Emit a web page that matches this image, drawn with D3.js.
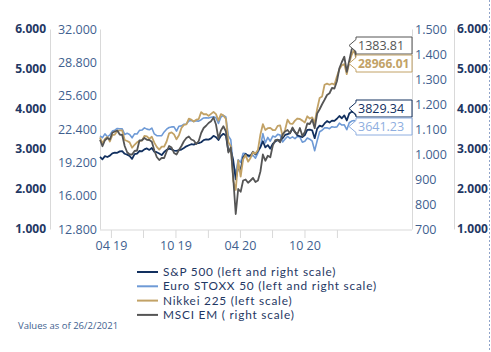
<!DOCTYPE html>
<html>
<head>
<meta charset="utf-8">
<script src="https://cdn.jsdelivr.net/npm/d3@7"></script>
<style>
  html, body { margin: 0; padding: 0; background: #fff; }
  svg { display: block; font-family: "Open Sans", sans-serif; }
</style>
</head>
<body>
<svg id="chart" width="491" height="352"></svg>
<script>
// Weekly closes (Fridays), 1 Mar 2019 .. 26 Feb 2021 (last value = 25/26 Feb close)
const spx = [
  2804, 2743, 2822, 2800, 2834,  2893, 2907, 2905, 2940,  2946, 2881, 2860, 2826, 2752,
  2873, 2887, 2950, 2942,  2990, 3014, 2977, 3026,  2932, 2919, 2889, 2847, 2926,
  2979, 3007, 2992, 2962,  2952, 2970, 2986, 3023,  3067, 3093, 3120, 3110, 3141,
  3146, 3169, 3221, 3240,
  3235, 3265, 3330, 3295, 3226,  3328, 3380, 3338, 2954,  2972, 2711, 2240, 2541,
  2489, 2790, 2875, 2837,  2831, 2930, 2864, 2955, 3044,  3194, 3041, 3098, 3009,
  3130, 3185, 3225, 3216, 3271,  3351, 3373, 3397, 3508,  3427, 3341, 3319, 3298,
  3348, 3477, 3484, 3465, 3270,  3510, 3585, 3558, 3638,  3699, 3663, 3709, 3703,
  3756, 3825, 3768, 3841, 3714,  3887, 3934, 3907, 3829.34
];
const sx5e = [
  3327, 3283, 3378, 3305, 3352,  3448, 3470, 3514, 3505,  3503, 3364, 3392, 3363, 3280,
  3377, 3375, 3466, 3474,  3528, 3497, 3480, 3524,  3376, 3333, 3330, 3335, 3427,
  3495, 3538, 3552, 3554,  3447, 3570, 3579, 3618,  3623, 3699, 3713, 3687, 3704,
  3696, 3732, 3776, 3782,
  3773, 3795, 3808, 3779, 3640,  3798, 3840, 3800, 3329,  3232, 2586, 2400, 2728,
  2663, 2893, 2888, 2810,  2810, 2844, 2770, 2905, 3050,  3384, 3154, 3289, 3195,
  3322, 3301, 3366, 3347, 3174,  3252, 3313, 3264, 3302,  3260, 3315, 3298, 3170,
  3193, 3273, 3245, 3194, 2958,  3205, 3432, 3468, 3528,  3532, 3509, 3558, 3543,
  3553, 3645, 3599, 3603, 3481,  3656, 3699, 3713, 3641.23
];
const nikkei = [
  21602, 21025, 21451, 21627, 21206,  21807, 21870, 22200, 22259,  22259, 21345, 21250, 21117, 20601,
  20885, 21117, 21258, 21276,  21746, 21686, 21467, 21658,  21088, 20685, 20419, 20711, 20704,
  21200, 21988, 22079, 21879,  21410, 21799, 22493, 22800,  22851, 23392, 23303, 23113, 23294,
  23354, 24023, 23816, 23837,
  23657, 23850, 24041, 23827, 23205,  23827, 23688, 23387, 21143,  20750, 17431, 16552, 19389,
  17820, 19498, 19897, 19262,  19619, 20179, 20037, 20388, 21878,  22863, 22305, 22478, 22512,
  22306, 22291, 22696, 22751, 21710,  22329, 23289, 22920, 22883,  23205, 23406, 23360, 23204,
  23029, 23619, 23410, 23516, 22977,  24325, 25385, 25527, 26644,  26751, 26652, 26763, 26656,
  27444, 28139, 28519, 28631, 27663,  28779, 29520, 30018, 28966.01
];
const msciEm = [
  1057, 1031, 1055, 1064, 1058,  1085, 1090, 1094, 1078,  1076, 1032, 1007, 998, 998,
  1012, 1014, 1054, 1055,  1064, 1057, 1056, 1049,  1015, 988, 976, 984, 984,
  1010, 1032, 1026, 1004,  998, 1016, 1032, 1051,  1064, 1070, 1058, 1054, 1040,
  1052, 1084, 1104, 1113,
  1124, 1131, 1146, 1118, 1062,  1094, 1111, 1091, 1006,  1026, 903, 760, 860,
  849, 894, 898, 885,  894, 904, 888, 894, 930,  998, 973, 993, 987,
  1033, 1055, 1057, 1047, 1079,  1090, 1096, 1083, 1106,  1087, 1080, 1104, 1072,
  1088, 1122, 1120, 1138, 1103,  1162, 1179, 1199, 1217,  1236, 1243, 1264, 1262,
  1291, 1343, 1368, 1389, 1329,  1373, 1419, 1430, 1383.81
];

const seriesNames = ['S&P 500 (left and right scale)', 'Euro STOXX 50 (left and right scale)',
                     'Nikkei 225 (left scale)', 'MSCI EM ( right scale)'];
const seriesColors = ['#12305f', '#6e9ad6', '#c2a266', '#555555'];

const spxTicks = [1000, 2000, 3000, 4000, 5000, 6000];
const nikkeiTicks = [12800, 16000, 19200, 22400, 25600, 28800, 32000];
const emTicks = [700, 800, 900, 1000, 1100, 1200, 1300, 1400, 1500];
const quarterTicks = ['2019-04-01', '2019-07-01', '2019-10-01', '2020-01-01',
                      '2020-04-01', '2020-07-01', '2020-10-01', '2021-01-01'];

const svg = d3.select('#chart');
const X0 = 100, X1 = 412, Y0 = 229, Y1 = 29;
const parse = d3.timeParse('%Y-%m-%d');
const dates = d3.timeFriday.range(new Date(2019, 2, 1), new Date(2021, 1, 27));

const x = d3.scaleTime().domain([new Date(2019, 2, 1), new Date(2021, 7, 2)]).range([X0, X1]);
const ySpx = d3.scaleLinear().domain([1000, 6000]).range([Y0, Y1]);
const yNik = d3.scaleLinear().domain([12800, 32000]).range([Y0, Y1]);
const yEm = d3.scaleLinear().domain([700, 1500]).range([Y0, Y1]);

const euro = d3.formatLocale({decimal: ',', thousands: '.', grouping: [3], currency: ['', '€']});
const fmt = euro.format(',.0f');
const grid = '#d9d9d9', mid = '#3f5f8f', dark = '#1f3864';

function vAxis(xPos, axisFn, scale, ticks, opts) {
  const g = svg.append('g').attr('transform', `translate(${xPos},0)`)
    .call(axisFn(scale).tickValues(ticks).tickFormat(fmt).tickSize(0).tickPadding(opts.pad));
  g.select('.domain').attr('stroke', grid);
  g.selectAll('text').attr('fill', opts.color).attr('font-size', opts.size)
    .attr('font-weight', opts.bold ? 700 : 400).attr('font-family', '"Open Sans", sans-serif');
}
vAxis(50, d3.axisLeft, ySpx, spxTicks, {pad: 4, color: dark, size: 12, bold: true});
vAxis(X0, d3.axisLeft, yNik, nikkeiTicks, {pad: 3, color: mid, size: 12.5});
vAxis(X1, d3.axisRight, yEm, emTicks, {pad: 3, color: mid, size: 12.5});
vAxis(454, d3.axisRight, ySpx, spxTicks, {pad: 3, color: dark, size: 12, bold: true});

// x axis
const gx = svg.append('g').attr('transform', `translate(0,${Y0 + 1})`)
  .call(d3.axisBottom(x).tickValues(quarterTicks.map(parse)).tickSize(8).tickPadding(3)
    .tickFormat((d, i) => i % 2 === 0 ? d3.timeFormat('%m %y')(d) : ''));
gx.select('.domain').attr('stroke', grid).attr('d', `M${X0},0H${X1}`);
gx.selectAll('line').attr('stroke', grid);
gx.selectAll('text').attr('fill', mid).attr('font-size', 12.5).attr('font-family', '"Open Sans", sans-serif');

// right dotted border
svg.append('line').attr('x1', 489.5).attr('x2', 489.5).attr('y1', 0).attr('y2', 352)
  .attr('stroke', '#8fa3c9').attr('stroke-dasharray', '2,2');

const series = [
  {vals: sx5e, y: ySpx, c: seriesColors[1], w: 1.6},
  {vals: spx, y: ySpx, c: seriesColors[0], w: 1.8},
  {vals: nikkei, y: yNik, c: seriesColors[2], w: 1.8},
  {vals: msciEm, y: yEm, c: seriesColors[3], w: 1.8}
];
series.forEach(s => {
  const line = d3.line().x((d, i) => x(dates[i])).y(d => s.y(d));
  svg.append('path').datum(s.vals).attr('d', line).attr('fill', 'none')
    .attr('stroke', s.c).attr('stroke-width', s.w).attr('stroke-linejoin', 'round');
});

// end-value tags
const tags = [
  {v: msciEm[msciEm.length - 1], top: 37, c: seriesColors[3], bold: false},
  {v: nikkei[nikkei.length - 1], top: 55, c: seriesColors[2], bold: true},
  {v: spx[spx.length - 1], top: 100, c: seriesColors[0], bold: false},
  {v: sx5e[sx5e.length - 1], top: 118, c: '#8eaee0', bold: false}
];
tags.forEach(t => {
  const l = 356, r = X1, tp = t.top, b = t.top + 17, m = (tp + b) / 2;
  svg.append('path').attr('d', `M${l},${tp}H${r}V${b}H${l}V${m + 6}L${l - 7},${m}L${l},${m - 6}Z`)
    .attr('fill', '#fff').attr('stroke', t.c).attr('stroke-width', 1);
  svg.append('text').attr('x', 358).attr('y', m).attr('dy', '0.36em')
    .attr('fill', t.c).attr('font-size', t.bold ? 12 : 12.5).attr('font-weight', t.bold ? 700 : 400)
    .text(t.v.toFixed(2));
});

// legend
const lg = svg.append('g');
seriesNames.forEach((n, i) => {
  const yy = 272 + i * 14.3;
  lg.append('line').attr('x1', 137).attr('x2', 158).attr('y1', yy).attr('y2', yy)
    .attr('stroke', seriesColors[i]).attr('stroke-width', 2);
  lg.append('text').attr('x', 163).attr('y', yy).attr('dy', '0.35em')
    .attr('fill', dark).attr('font-size', 11.8).attr('font-family', 'Lato, sans-serif')
    .attr('letter-spacing', 0.8).text(n);
});

svg.append('text').attr('x', 18).attr('y', 326).attr('dy', '0.35em')
  .attr('fill', mid).attr('font-size', 9.5).text('Values as of 26/2/2021');
</script>
</body>
</html>
